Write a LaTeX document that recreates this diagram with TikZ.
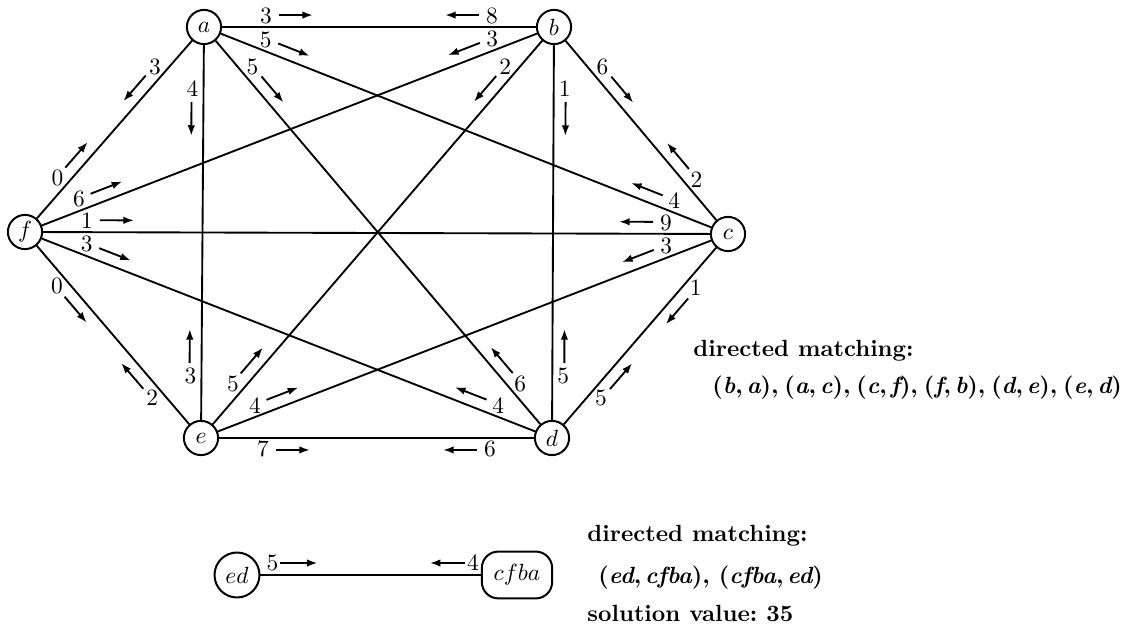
\documentclass[tikz,border=0pt]{standalone}
\usepackage{amsmath}
\usepackage{tikz}
\usetikzlibrary{arrows.meta,calc}
\newcommand{\vpair}[2]{({\itshape #1},\,{\itshape #2})}
\tikzset{
  vtx/.style={circle, draw, line width=0.85pt, minimum size=14.6pt, inner sep=0pt},
  bigvtx/.style={circle, draw, line width=0.85pt, minimum size=19.2pt, inner sep=0pt},
  boxvtx/.style={rectangle, rounded corners=7pt, draw, line width=0.85pt,
                 minimum width=30pt, minimum height=20pt, inner sep=0pt},
  link/.style={line width=0.8pt},
  wnum/.style={inner sep=0pt},
  warrow/.style={-{Latex[length=4.5pt,width=3.2pt]}, line width=0.8pt},
  caption/.style={anchor=base west, inner sep=0pt, font=\bfseries},
}

\begin{document}
\begin{tikzpicture}[x=0.427pt,y=-0.427pt]
  \useasboundingbox (0,0) rectangle (1128,635);

  % Vertices of the complete graph
  \node[vtx] (a) at (204,27) {$a$};
  \node[vtx] (b) at (554,27) {$b$};
  \node[vtx] (c) at (728,234) {$c$};
  \node[vtx] (d) at (552,438) {$d$};
  \node[vtx] (e) at (201,438) {$e$};
  \node[vtx] (f) at (25,232) {$f$};

  % Edges, weight of u->v near u and of v->u near v (labels left of u->v)
  \foreach \u/\v/\wu/\wv in {
      a/b/3/8, a/c/5/4, a/d/5/6, e/a/3/4, f/a/0/3,
      b/c/6/2, b/d/1/5, e/b/5/2, f/b/6/3,
      c/d/1/5, e/c/4/3, f/c/1/9,
      d/e/6/7, f/d/3/4, e/f/2/0}{
    \draw[link] (\u) -- (\v);
    \node[wnum] (w\u\v) at ($(\u)!26.5pt!(\v)!4.7pt!90:(\v)$) {\wu};
    \draw[warrow] ($(\u)!32pt!(\v)!5.1pt!90:(\v)$) -- ($(\u)!46.5pt!(\v)!5.1pt!90:(\v)$);
    \node[wnum] (w\v\u) at ($(\v)!26.5pt!(\u)!4.7pt!-90:(\u)$) {\wv};
    \draw[warrow] ($(\v)!32pt!(\u)!5.1pt!-90:(\u)$) -- ($(\v)!46.5pt!(\u)!5.1pt!-90:(\u)$);
  }

  \node[caption] (dmA) at (693,357) {directed matching:};
  \node[caption] (dmAv) at (712,394) {\spaceskip=2.5pt\vpair{b}{a}, \vpair{a}{c}, \vpair{c}{f}, \vpair{f}{b}, \vpair{d}{e}, \vpair{e}{d}};

  % Contracted graph
  \node[bigvtx] (ed) at (237,575) {$ed$};
  \node[boxvtx] (cfba) at (517,575) {$cfba$};
  \draw[link] (ed) -- (cfba);
  \node[wnum] (wedcfba) at ($(ed.east)+(12,-12)$) {5};
  \draw[warrow] ($(ed.east)+(20,-12)$) -- ($(ed.east)+(57,-12)$);
  \node[wnum] (wcfbaed) at ($(cfba.west)+(-8,-12)$) {4};
  \draw[warrow] ($(cfba.west)+(-16,-12)$) -- ($(cfba.west)+(-51,-12)$);

  \node[caption] (dmB) at (587,542) {directed matching:};
  \node[caption] (dmBv) at (598,584) {\vpair{ed}{cfba}, \vpair{cfba}{ed}};
  \node[caption] (sol) at (587,622) {solution value:\ 35};
\end{tikzpicture}
\end{document}
